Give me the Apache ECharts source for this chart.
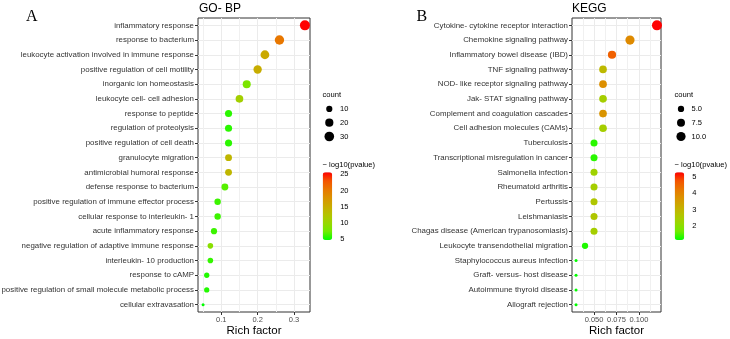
<!DOCTYPE html>
<html>
<head>
<meta charset="utf-8">
<script src="https://cdn.jsdelivr.net/npm/echarts@6/dist/echarts.min.js"></script>
<style>html,body{margin:0;padding:0;background:#fff}#main{width:730px;height:339px}</style>
</head>
<body>
<div id="main"></div>
<script>
// GO-BP panel
var goTerms = ['inflammatory response', 'response to bacterium', 'leukocyte activation involved in immune response',
  'positive regulation of cell motility', 'inorganic ion homeostasis', 'leukocyte cell- cell adhesion',
  'response to peptide', 'regulation of proteolysis', 'positive regulation of cell death', 'granulocyte migration',
  'antimicrobial humoral response', 'defense response to bacterium', 'positive regulation of immune effector process',
  'cellular response to interleukin- 1', 'acute inflammatory response', 'negative regulation of adaptive immune response',
  'interleukin- 10 production', 'response to cAMP', 'positive regulation of small molecule metabolic process',
  'cellular extravasation'];
var goRich = [0.33, 0.26, 0.22, 0.20, 0.17, 0.15, 0.12, 0.12, 0.12, 0.12, 0.12, 0.11, 0.09, 0.09, 0.08, 0.07, 0.07, 0.06, 0.06, 0.05];
var goCount = [33, 28, 24, 21, 19, 17, 14, 14, 14, 13, 13, 13, 11, 11, 10, 8, 8, 7, 7, 4];
var goLogP = [25.6, 20.4, 15.4, 15, 8.2, 11, 5.8, 5.8, 5.8, 14, 14, 6.8, 6.2, 6.2, 6.2, 9, 6, 5.6, 5.6, 4.8];
var goXTicks = [0.1, 0.2, 0.3];
var goXMinor = [0.05, 0.15, 0.25];
var goXLabels = ['0.1', '0.2', '0.3'];
var goCountBreaks = [10, 20, 30];
var goColorBreaks = [5, 10, 15, 20, 25];

// KEGG panel
var keggTerms = ['Cytokine- cytokine receptor interaction', 'Chemokine signaling pathway', 'Inflammatory bowel disease (IBD)',
  'TNF signaling pathway', 'NOD- like receptor signaling pathway', 'Jak- STAT signaling pathway',
  'Complement and coagulation cascades', 'Cell adhesion molecules (CAMs)', 'Tuberculosis',
  'Transcriptional misregulation in cancer', 'Salmonella infection', 'Rheumatoid arthritis', 'Pertussis',
  'Leishmaniasis', 'Chagas disease (American trypanosomiasis)', 'Leukocyte transendothelial migration',
  'Staphylococcus aureus infection', 'Graft- versus- host disease', 'Autoimmune thyroid disease', 'Allograft rejection'];
var keggRich = [0.12, 0.09, 0.07, 0.06, 0.06, 0.06, 0.06, 0.06, 0.05, 0.05, 0.05, 0.05, 0.05, 0.05, 0.05, 0.04, 0.03, 0.03, 0.03, 0.03];
var keggCount = [12, 10, 8, 7, 7, 7, 7, 7, 6, 6, 6, 6, 6, 6, 6, 5, 3, 3, 3, 3];
var keggLogP = [5.31, 3.9, 4.6, 2.9, 3.8, 2.4, 3.7, 2.4, 1.3, 1.3, 2.3, 2.4, 2.6, 2.6, 2.4, 1.25, 1.11, 1.11, 1.11, 1.11];
var keggXTicks = [0.05, 0.075, 0.1];
var keggXMinor = [0.0375, 0.0625, 0.0875, 0.1125];
var keggXLabels = ['0.050', '0.075', '0.100'];
var keggCountBreaks = [5, 7.5, 10];
var keggCountLabels = ['5.0', '7.5', '10.0'];
var keggColorBreaks = [2, 3, 4, 5];

// green -> red as ggplot interpolates it
var ramp = ['#00FF00', '#70EB00', '#98D700', '#B4C300', '#C9AB00', '#DA9200', '#E87700', '#F45300', '#FF0000'];

var FONT = 'Liberation Sans';

function extent(a) { return [Math.min.apply(null, a), Math.max.apply(null, a)]; }
function expand(a) { var e = extent(a), r = e[1] - e[0]; return [e[0] - 0.05 * r, e[1] + 0.05 * r]; }
function sizer(counts) {
  var e = extent(counts);
  return function (c) { return 3 + 7 * Math.sqrt(Math.max(0, c - e[0]) / (e[1] - e[0])); };
}
var goSize = sizer(goCount), keggSize = sizer(keggCount);
var goX = expand(goRich), keggX = expand(keggRich);
var goL = extent(goLogP), keggL = extent(keggLogP);

var myChart = echarts.init(document.getElementById('main'));

function mainX(grid, ext, ticks, labels) {
  return {
    gridIndex: grid, type: 'value', min: ext[0], max: ext[1],
    axisLine: { show: false },
    axisTick: { show: true, customValues: ticks, length: 3, lineStyle: { color: '#333' } },
    axisLabel: {
      customValues: ticks, margin: 4, fontSize: 7.5, fontFamily: FONT, color: '#4D4D4D',
      formatter: function (v) { return labels[ticks.indexOf(+v.toFixed(4))] || ''; }
    },
    splitLine: { show: true, lineStyle: { color: '#EBEBEB', width: 1 } },
    name: 'Rich factor', nameLocation: 'middle', nameGap: 13, nameMoveOverlap: false,
    nameTextStyle: { fontSize: 11.5, fontFamily: FONT, color: '#000', verticalAlign: 'top' }
  };
}
function minorX(grid, ext, minor) {
  return {
    gridIndex: grid, type: 'value', min: ext[0], max: ext[1],
    axisLine: { show: false }, axisLabel: { show: false },
    axisTick: { show: false, customValues: minor },
    splitLine: { show: true, lineStyle: { color: '#F0F0F0', width: 1 } }
  };
}
function hiddenX(grid) {
  return { gridIndex: grid, type: 'value', min: 0, max: 1, show: false };
}
function mainY(grid, terms) {
  return {
    gridIndex: grid, type: 'category', data: terms, inverse: true,
    axisLine: { show: false },
    axisTick: { show: true, alignWithLabel: true, length: 3, lineStyle: { color: '#333' } },
    axisLabel: { fontSize: 7.9, fontFamily: FONT, color: '#333', margin: 4, interval: 0 },
    splitLine: { show: true, alignWithLabel: true, lineStyle: { color: '#EBEBEB' } }
  };
}
function countY(grid, labels) {
  return {
    gridIndex: grid, type: 'category', data: labels, inverse: true, position: 'right',
    axisLine: { show: false }, axisTick: { show: false },
    axisLabel: { fontSize: 7.5, fontFamily: FONT, color: '#000', margin: 4 }
  };
}
function barY(grid, ext, breaks, side, labels) {
  return {
    gridIndex: grid, type: 'value', min: ext[0], max: ext[1], position: side,
    axisLine: { show: false }, splitLine: { show: false },
    axisTick: { show: true, inside: true, length: 2, customValues: breaks, lineStyle: { color: '#fff', width: 1 } },
    axisLabel: { show: labels, customValues: breaks, margin: 8, fontSize: 7.5, fontFamily: FONT, color: '#000' }
  };
}
function titleText(text, left, top, size, family) {
  return { text: text, left: left, top: top, padding: 0,
    textStyle: { fontSize: size, fontWeight: 'normal', fontFamily: family || FONT, color: '#000' } };
}
function box(left, top, width, height, framed) {
  var g = { left: left, top: top, width: width, height: height, outerBoundsMode: 'none', containLabel: false };
  if (framed) {
    g.show = true; g.borderColor = '#333'; g.borderWidth = 1; g.backgroundColor = '#fff';
  }
  return g;
}

var option = {
  backgroundColor: '#fff',
  animation: false,
  title: [
    titleText('A', 26, 9, 16, 'Liberation Serif'),
    titleText('GO- BP', 199, 2.5, 12),
    titleText('B', 416.5, 9, 16, 'Liberation Serif'),
    titleText('KEGG', 572, 2.5, 12),
    titleText('count', 322.5, 91, 7.6),
    titleText('\u2212 log10(pvalue)', 322.5, 161, 7.6),
    titleText('count', 674.5, 91, 7.6),
    titleText('\u2212 log10(pvalue)', 674.5, 161, 7.6)
  ],
  grid: [
    box(198, 18, 112, 294, true),
    box(572, 18, 89, 294, true),
    box(322.5, 102, 13.6, 41.4),
    box(322.7, 172.3, 9.5, 67.7),
    box(674.5, 102, 13, 41.4),
    box(674.7, 172.3, 9.5, 67.7)
  ],
  xAxis: [
    mainX(0, goX, goXTicks, goXLabels), minorX(0, goX, goXMinor),
    mainX(1, keggX, keggXTicks, keggXLabels), minorX(1, keggX, keggXMinor),
    hiddenX(2), hiddenX(3), hiddenX(4), hiddenX(5)
  ],
  yAxis: [
    mainY(0, goTerms), mainY(1, keggTerms),
    countY(2, goCountBreaks.map(String)),
    barY(3, goL, goColorBreaks, 'right', true), barY(3, goL, goColorBreaks, 'left', false),
    countY(4, keggCountLabels),
    barY(5, keggL, keggColorBreaks, 'right', true), barY(5, keggL, keggColorBreaks, 'left', false)
  ],
  visualMap: [
    { type: 'continuous', seriesIndex: 0, dimension: 3, min: goL[0], max: goL[1],
      inRange: { color: ramp }, left: 322.7, top: 172.3, itemWidth: 9.5, itemHeight: 67.7,
      padding: 0, calculable: false, hoverLink: false, text: null },
    { type: 'continuous', seriesIndex: 1, dimension: 3, min: keggL[0], max: keggL[1],
      inRange: { color: ramp }, left: 674.7, top: 172.3, itemWidth: 9.5, itemHeight: 67.7,
      padding: 0, calculable: false, hoverLink: false, text: null }
  ],
  series: [
    {
      type: 'scatter', xAxisIndex: 0, yAxisIndex: 0,
      data: goTerms.map(function (t, i) { return [goRich[i], t, goCount[i], goLogP[i]]; }),
      symbolSize: function (d) { return goSize(d[2]); },
      itemStyle: { opacity: 1 }
    },
    {
      type: 'scatter', xAxisIndex: 2, yAxisIndex: 1,
      data: keggTerms.map(function (t, i) { return [keggRich[i], t, keggCount[i], keggLogP[i]]; }),
      symbolSize: function (d) { return keggSize(d[2]); },
      itemStyle: { opacity: 1 }
    },
    {
      type: 'scatter', xAxisIndex: 4, yAxisIndex: 2,
      data: goCountBreaks.map(function (c) { return [0.5, String(c), c]; }),
      symbolSize: function (d) { return goSize(d[2]); },
      itemStyle: { color: '#000', opacity: 1 }
    },
    {
      type: 'scatter', xAxisIndex: 6, yAxisIndex: 5,
      data: keggCountBreaks.map(function (c, i) { return [0.5, keggCountLabels[i], c]; }),
      symbolSize: function (d) { return keggSize(d[2]); },
      itemStyle: { color: '#000', opacity: 1 }
    }
  ]
};

myChart.setOption(option, true);
</script>
</body>
</html>
